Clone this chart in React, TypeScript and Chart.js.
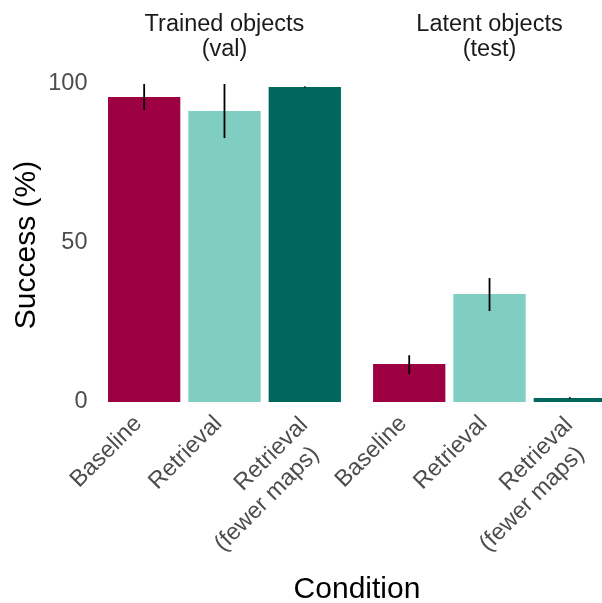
import React, { useEffect, useRef } from "react";
import { Chart, registerables } from "chart.js";

Chart.register(...registerables);

// ---- data ----
const facets = [["Trained objects", "(val)"], ["Latent objects", "(test)"]];
const conditions = [["Baseline"], ["Retrieval"], ["Retrieval", "(fewer maps)"]];
const barColors = ["#9E0142", "#80CDC1", "#01665E"];

const trainedSuccess = [95.9, 91.5, 99.05];
const trainedLower = [91.8, 83.0, 98.85];
const trainedUpper = [100, 100, 99.25];

const latentSuccess = [11.95, 33.96, 1.26];
const latentLower = [8.8, 28.6, 1.05];
const latentUpper = [14.7, 39.0, 1.5];

const yTicks = [0, 50, 100];
const yTitle = "Success (%)";
const xTitle = "Condition";

// ---- layout constants ----
const FACET_GAP = 0.3; // gap between facet panels, in band units
const FONT = '"Liberation Sans", Arial, Helvetica, sans-serif';
const W = 610;
const H = 603;
const TICK_FONT = 23.5;

const successByFacet = [trainedSuccess, latentSuccess];
const lowerByFacet = [trainedLower, latentLower];
const upperByFacet = [trainedUpper, latentUpper];

const nC = conditions.length;
const xPos: number[] = [];
const values: number[] = [];
const lows: number[] = [];
const highs: number[] = [];
const colors: string[] = [];
const tickLabels: string[][] = [];
facets.forEach((_, f) => {
  conditions.forEach((c, i) => {
    xPos.push(f * (nC + FACET_GAP) + i);
    values.push(successByFacet[f][i]);
    lows.push(lowerByFacet[f][i]);
    highs.push(upperByFacet[f][i]);
    colors.push(barColors[i]);
    tickLabels.push(c);
  });
});

const errorBarPlugin = {
  id: "errorBars",
  afterDatasetsDraw(chart: any) {
    const { ctx, scales } = chart;
    const xs = scales.x;
    const ys = scales.y;
    ctx.save();
    ctx.strokeStyle = "#000000";
    ctx.lineWidth = 1.8;
    xPos.forEach((x, i) => {
      const px = xs.getPixelForValue(x);
      ctx.beginPath();
      ctx.moveTo(px, ys.getPixelForValue(lows[i]));
      ctx.lineTo(px, ys.getPixelForValue(highs[i]));
      ctx.stroke();
    });
    ctx.restore();
  },
};

// rotated (45°) category labels under each bar, ggplot-style justification
const xLabelPlugin = {
  id: "xLabels",
  afterDraw(chart: any) {
    const { ctx, scales, chartArea } = chart;
    const xs = scales.x;
    ctx.save();
    ctx.font = `${TICK_FONT}px ${FONT}`;
    ctx.fillStyle = "#4D4D4D";
    ctx.textAlign = "right";
    ctx.textBaseline = "alphabetic";
    xPos.forEach((v, i) => {
      const lines = tickLabels[i];
      const multi = lines.length > 1;
      ctx.save();
      ctx.translate(xs.getPixelForValue(v), chartArea.bottom);
      ctx.rotate(-Math.PI / 4);
      lines.forEach((t, k) => {
        const u = (multi ? -14.3 : -17) - k * 12.5;
        const w = (multi ? 19.8 : 15) + k * 28.7;
        ctx.fillText(t, u, w);
      });
      ctx.restore();
    });
    ctx.restore();
  },
};

const textPlugin = {
  id: "facetText",
  afterDraw(chart: any) {
    const { ctx, scales, chartArea } = chart;
    const xs = scales.x;
    ctx.save();
    // facet strip titles
    ctx.font = `23.5px ${FONT}`;
    ctx.fillStyle = "#1A1A1A";
    ctx.textAlign = "center";
    ctx.textBaseline = "alphabetic";
    facets.forEach((lines, f) => {
      const first = f * (nC + FACET_GAP);
      const cx = (xs.getPixelForValue(first - 0.5) + xs.getPixelForValue(first + nC - 0.5)) / 2;
      lines.forEach((t, k) => {
        ctx.fillText(t, cx, 31 + k * 24.5);
      });
    });
    // axis titles
    ctx.font = `30px ${FONT}`;
    ctx.fillStyle = "#000000";
    ctx.fillText(xTitle, (chartArea.left + chartArea.right) / 2, 597.5);
    ctx.translate(35, (chartArea.top + chartArea.bottom) / 2 + 2);
    ctx.rotate(-Math.PI / 2);
    ctx.fillText(yTitle, 0, 0);
    ctx.restore();
  },
};

export default function App() {
  const ref = useRef<HTMLCanvasElement>(null);

  useEffect(() => {
    const canvas = ref.current;
    if (!canvas) return;
    const chart = new Chart(canvas, {
      type: "bar",
      data: {
        datasets: [
          {
            data: xPos.map((x, i) => ({ x, y: values[i] })),
            backgroundColor: colors,
            borderWidth: 0,
            barPercentage: 0.9,
            categoryPercentage: 1,
          },
        ],
      },
      options: {
        responsive: false,
        animation: false,
        devicePixelRatio: 1,
        layout: { padding: { top: 84, left: 0, right: 0, bottom: 0 } },
        plugins: {
          legend: { display: false },
          tooltip: { enabled: false },
          title: { display: false },
        },
        scales: {
          x: {
            type: "linear",
            offset: false,
            min: -0.5,
            max: xPos[xPos.length - 1] + 0.5,
            grid: { display: false, drawTicks: false, offset: false },
            border: { display: false },
            afterBuildTicks: (scale: any) => {
              scale.ticks = xPos.map((v) => ({ value: v }));
            },
            afterFit: (scale: any) => {
              scale.height = H - 402;
              scale.paddingLeft = 0;
              scale.paddingRight = 0;
              scale.paddingTop = 0;
              scale.paddingBottom = 0;
            },
            ticks: {
              display: false,
              autoSkip: false,
              callback: (_v: any, i: number) => tickLabels[i],
            },
          },
          y: {
            min: 0,
            max: 100,
            grid: { display: false, drawTicks: false },
            border: { display: false },
            afterBuildTicks: (scale: any) => {
              scale.ticks = yTicks.map((v) => ({ value: v }));
            },
            afterFit: (scale: any) => {
              scale.width = 104;
              scale.paddingTop = 0;
              scale.paddingBottom = 0;
            },
            ticks: {
              padding: 16.5,
              color: "#4D4D4D",
              font: { family: FONT, size: TICK_FONT },
            },
          },
        },
      },
      plugins: [errorBarPlugin, xLabelPlugin, textPlugin],
    } as any);
    return () => chart.destroy();
  }, []);

  return (
    <div
      style={{
        position: "absolute",
        left: 0,
        top: 0,
        width: 602,
        height: 603,
        overflow: "hidden",
        background: "#ffffff",
      }}
    >
      <canvas ref={ref} width={W} height={H} style={{ display: "block", width: W, height: H }} />
    </div>
  );
}
